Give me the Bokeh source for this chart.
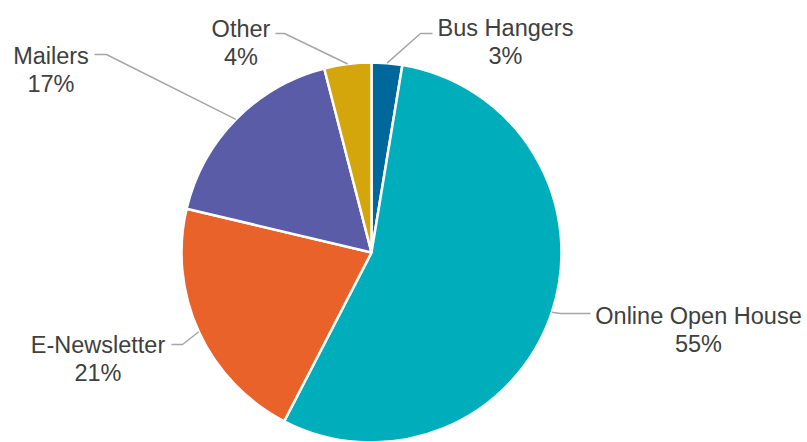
import math
from bokeh.plotting import figure
from bokeh.models import Range1d, ColumnDataSource
from bokeh.embed import file_html
from bokeh.resources import INLINE
from bokeh.core.properties import value

# ---- data ----
categories = ["Bus Hangers", "Online Open House", "E-Newsletter", "Mailers", "Other"]
shares = [2.6, 55.0, 21.1, 17.3, 4.0]
colors = ["#00679b", "#00adbb", "#e8622a", "#5b5ca7", "#d4a60c"]

# ---- layout (pixel coords, y measured from top) ----
W, H = 807, 442
CX, CY, R = 371, 252, 190
# label centre x, baseline y of name line
label_pos = [(505, 27), (698, 315), (97.5, 344), (50.5, 55), (240.5, 28)]
# leader line elbow and end points
leader_elbow = [(420, 33), (560, 313), (182, 344), (106, 54), (284, 33)]
leader_end = [(432, 33), (590, 313), (171, 344), (94, 54), (275, 33)]
LINE_GAP = 28

def fy(y):
    return H - y

p = figure(width=W, height=H, output_backend="svg", toolbar_location=None,
           x_range=Range1d(0, W), y_range=Range1d(0, H), min_border=0)
p.axis.visible = False
p.grid.visible = False
p.outline_line_color = None
p.background_fill_color = "white"
p.border_fill_color = "white"

total = sum(shares)
starts, ends, mids = [], [], []
cum = 0.0
for v in shares:
    a0 = math.pi / 2 - 2 * math.pi * cum / total
    cum += v
    a1 = math.pi / 2 - 2 * math.pi * cum / total
    starts.append(a0)
    ends.append(a1)
    mids.append((a0 + a1) / 2)

src = ColumnDataSource(dict(start=starts, end=ends, color=colors, cat=categories))
p.wedge(x=CX, y=fy(CY), radius=R, start_angle="start", end_angle="end",
        direction="clock", fill_color="color", line_color="white", line_width=2.5,
        source=src)

# leader lines
xs, ys = [], []
for i, m in enumerate(mids):
    sx = CX + R * math.cos(m)
    sy = fy(CY) + R * math.sin(m)
    ex, ey = leader_elbow[i]
    tx, ty = leader_end[i]
    xs.append([sx, ex, tx])
    ys.append([sy, fy(ey), fy(ty)])
p.multi_line(xs, ys, line_color="#a6a6a6", line_width=1.5)

# labels
names_x = [lp[0] for lp in label_pos]
names_y = [fy(lp[1]) for lp in label_pos]
pct_y = [fy(lp[1] + LINE_GAP) for lp in label_pos]
pct_txt = [f"{v / total * 100:.0f}%" for v in shares]
font = value("Liberation Sans")
p.text(names_x, names_y, text=categories, text_align="center", text_baseline="alphabetic",
       text_font=font, text_font_size="23.5px", text_color="#404040")
p.text(names_x, pct_y, text=pct_txt, text_align="center", text_baseline="alphabetic",
       text_font=font, text_font_size="23.5px", text_color="#404040")

open("out.html", "w").write(file_html(p, INLINE))
